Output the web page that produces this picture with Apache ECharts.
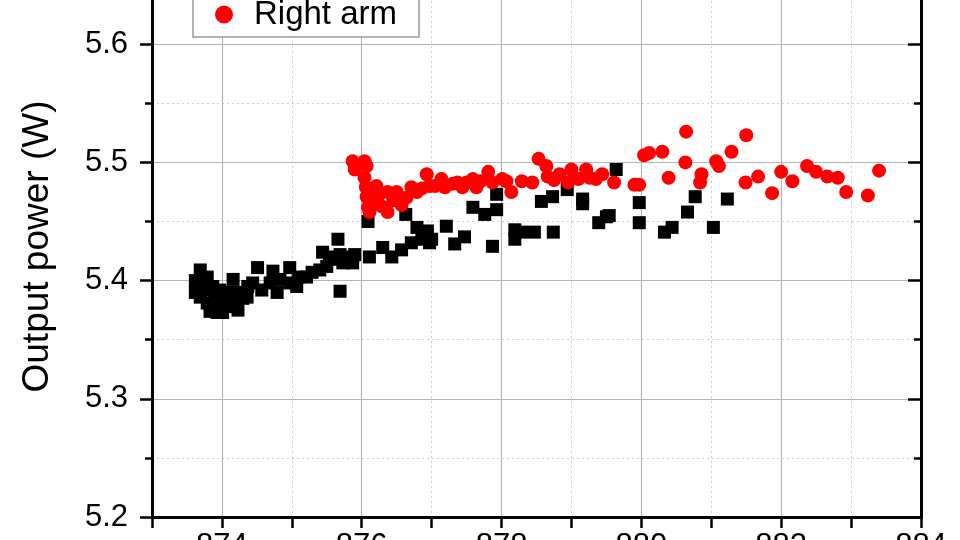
<!DOCTYPE html>
<html>
<head>
<meta charset="utf-8">
<script src="https://cdn.jsdelivr.net/npm/echarts@6/dist/echarts.min.js"></script>
<style>
  html, body { margin: 0; padding: 0; background: #fff; }
  #main { width: 960px; height: 540px; }
</style>
</head>
<body>
<div id="main"></div>
<script>
// data: [wavelength, output power]
const seriesNames = ["Left arm", "Right arm"];

const leftArm = [
  [873.62, 5.400], [873.62, 5.390], [873.69, 5.409], [873.69, 5.398], [873.69, 5.386],
  [873.75, 5.392], [873.79, 5.403], [873.79, 5.381], [873.83, 5.374], [873.87, 5.395],
  [873.90, 5.385], [873.93, 5.373], [873.95, 5.380], [873.97, 5.392], [874.00, 5.385],
  [874.01, 5.373], [874.07, 5.381], [874.10, 5.390], [874.12, 5.378], [874.16, 5.401],
  [874.19, 5.386], [874.23, 5.375], [874.25, 5.390], [874.30, 5.385], [874.36, 5.386],
  [874.37, 5.395], [874.44, 5.398], [874.51, 5.411], [874.57, 5.392], [874.69, 5.398],
  [874.73, 5.408], [874.79, 5.390], [874.83, 5.401], [874.97, 5.411], [874.97, 5.398],
  [875.07, 5.395], [875.09, 5.403], [875.21, 5.403], [875.29, 5.407], [875.40, 5.409],
  [875.44, 5.424], [875.50, 5.412], [875.54, 5.420], [875.59, 5.418], [875.66, 5.435],
  [875.69, 5.391], [875.69, 5.422], [875.73, 5.415], [875.87, 5.420], [875.87, 5.415],
  [875.90, 5.422], [876.09, 5.450], [876.11, 5.420], [876.30, 5.428], [876.43, 5.420],
  [876.57, 5.426], [876.63, 5.456], [876.71, 5.432], [876.79, 5.445], [876.86, 5.435],
  [876.94, 5.442], [876.97, 5.432], [877.00, 5.435], [877.21, 5.446], [877.33, 5.431],
  [877.47, 5.437], [877.59, 5.462], [877.76, 5.456], [877.87, 5.429], [877.93, 5.460],
  [877.93, 5.473], [878.19, 5.443], [878.19, 5.435], [878.29, 5.441], [878.47, 5.441],
  [878.57, 5.467], [878.73, 5.471], [878.74, 5.441], [878.94, 5.477], [879.16, 5.469],
  [879.16, 5.465], [879.39, 5.449], [879.50, 5.454], [879.54, 5.455], [879.64, 5.494],
  [879.97, 5.466], [879.97, 5.449], [880.33, 5.441], [880.44, 5.445], [880.66, 5.458],
  [880.77, 5.471], [881.03, 5.445], [881.23, 5.469]
];

const rightArm = [
  [875.87, 5.501], [875.90, 5.494], [876.04, 5.501], [876.07, 5.497], [876.04, 5.487],
  [876.06, 5.479], [876.07, 5.471], [876.09, 5.462], [876.11, 5.458], [876.14, 5.477],
  [876.17, 5.468], [876.21, 5.480], [876.23, 5.471], [876.28, 5.463], [876.37, 5.458],
  [876.37, 5.475], [876.45, 5.468], [876.50, 5.475], [876.57, 5.464], [876.64, 5.470],
  [876.71, 5.479], [876.79, 5.475], [876.86, 5.478], [876.93, 5.490], [876.97, 5.480],
  [877.05, 5.480], [877.14, 5.486], [877.19, 5.479], [877.30, 5.482], [877.37, 5.483],
  [877.44, 5.479], [877.50, 5.483], [877.59, 5.486], [877.64, 5.479], [877.70, 5.484],
  [877.81, 5.492], [877.87, 5.483], [878.01, 5.486], [878.07, 5.484], [878.14, 5.475],
  [878.29, 5.484], [878.44, 5.483], [878.53, 5.503], [878.64, 5.497], [878.66, 5.488],
  [878.75, 5.485], [878.83, 5.490], [878.95, 5.483], [879.00, 5.494], [879.04, 5.487],
  [879.10, 5.486], [879.21, 5.494], [879.26, 5.487], [879.35, 5.486], [879.44, 5.490],
  [879.61, 5.483], [879.90, 5.481], [879.97, 5.481], [880.04, 5.506], [880.11, 5.508],
  [880.30, 5.509], [880.39, 5.487], [880.63, 5.500], [880.64, 5.526], [880.84, 5.483],
  [880.86, 5.490], [881.07, 5.501], [881.11, 5.497], [881.29, 5.509], [881.49, 5.483],
  [881.50, 5.523], [881.67, 5.488], [881.87, 5.474], [882.00, 5.492], [882.16, 5.484],
  [882.37, 5.497], [882.50, 5.492], [882.66, 5.488], [882.81, 5.487], [882.93, 5.475],
  [883.24, 5.472], [883.40, 5.493]
];

const xRange = [873, 884];
const yRange = [5.2, 5.7];

var font = "Liberation Sans, Arial, sans-serif";
var chart = echarts.init(document.getElementById("main"));

var option = {
  animation: false,
  backgroundColor: "#fff",
  grid: { left: 152, right: 39, top: -74, bottom: 23, containLabel: false, outerBoundsMode: "none" },
  legend: {
    orient: "vertical",
    left: 193,
    top: -53,
    padding: [6, 22, 6, 6],
    itemGap: 12,
    itemWidth: 50,
    itemHeight: 18,
    borderColor: "#999",
    borderWidth: 1.5,
    backgroundColor: "#fff",
    data: seriesNames,
    textStyle: { fontFamily: font, fontSize: 33, color: "#000" }
  },
  xAxis: [
    {
      type: "value",
      min: xRange[0],
      max: xRange[1],
      interval: 1,
      position: "bottom",
      axisLine: { lineStyle: { color: "#000", width: 3 } },
      axisTick: { length: 11, lineStyle: { color: "#000", width: 2.5 } },
      axisLabel: {
        margin: 14,
        fontFamily: font,
        fontSize: 31,
        color: "#000",
        formatter: function (v) { return v % 2 === 0 ? String(v) : ""; }
      },
      splitLine: { show: true, lineStyle: { color: "#cfcfcf", width: 1, type: [2, 3] } }
    },
    {
      // nice ticks every 2, for the solid grid lines
      type: "value",
      min: xRange[0],
      max: xRange[1],
      splitNumber: 5,
      position: "bottom",
      axisLine: { show: false },
      axisTick: { show: false },
      axisLabel: { show: false },
      splitLine: { show: true, lineStyle: { color: "#b4b4b4", width: 1.2 } }
    }
  ],
  yAxis: [
    {
      type: "value",
      min: yRange[0],
      max: yRange[1],
      interval: 0.1,
      name: "Output power (W)",
      nameLocation: "middle",
      nameGap: 96,
      // extra padding on the text's far end pushes it down the visible part
      nameTextStyle: { fontFamily: font, fontSize: 37, color: "#000", padding: [0, 50, 0, 0] },
      axisLine: { show: true, lineStyle: { color: "#000", width: 3 } },
      axisTick: { length: 12, lineStyle: { color: "#000", width: 2.5 } },
      minorTick: { show: true, splitNumber: 2, length: 7, lineStyle: { color: "#000", width: 2.5 } },
      axisLabel: {
        margin: 24,
        fontFamily: font,
        fontSize: 31,
        color: "#000",
        formatter: function (v) { return v.toFixed(1); }
      },
      splitLine: { show: true, lineStyle: { color: "#b4b4b4", width: 1.2 } },
      minorSplitLine: { show: true, lineStyle: { color: "#cfcfcf", width: 1, type: [2, 3] } }
    },
    {
      type: "value",
      min: yRange[0],
      max: yRange[1],
      interval: 0.1,
      position: "right",
      axisLine: { show: true, lineStyle: { color: "#000", width: 3 } },
      axisTick: { inside: true, length: 13, lineStyle: { color: "#000", width: 2.5 } },
      minorTick: { show: true, splitNumber: 2, length: 7, lineStyle: { color: "#000", width: 2.5 } },
      axisLabel: { show: false },
      splitLine: { show: false }
    }
  ],
  series: [
    {
      name: seriesNames[0],
      type: "scatter",
      symbol: "rect",
      symbolSize: 13,
      itemStyle: { color: "#000", opacity: 1 },
      data: leftArm
    },
    {
      name: seriesNames[1],
      type: "scatter",
      symbol: "circle",
      symbolSize: 14,
      itemStyle: { color: "#ff0000", opacity: 1 },
      data: rightArm
    }
  ]
};

chart.setOption(option);
</script>
</body>
</html>
